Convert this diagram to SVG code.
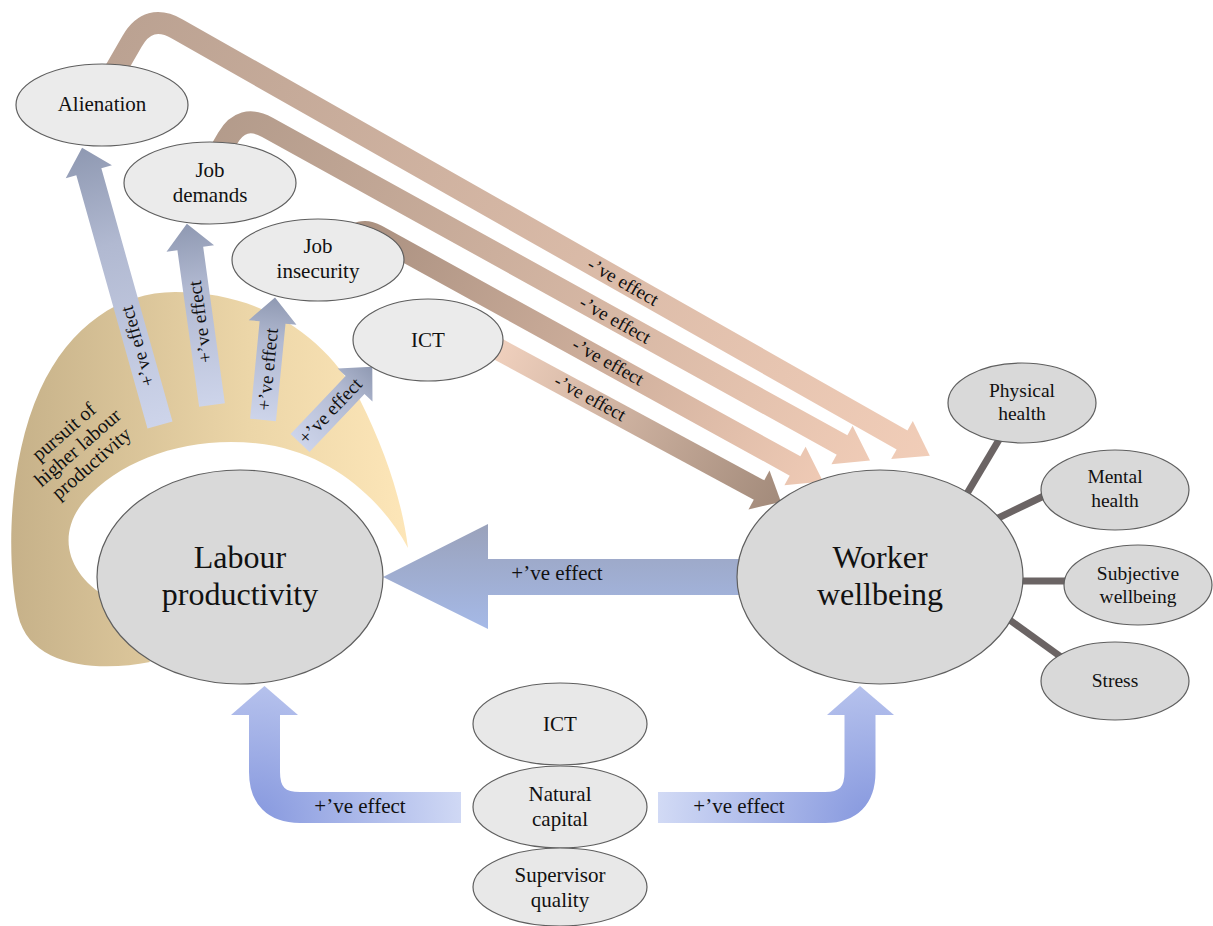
<svg xmlns="http://www.w3.org/2000/svg" width="1213" height="926" viewBox="0 0 1213 926" font-family="Liberation Serif, Times New Roman, serif">
<style>
text{font-family:'Liberation Serif','Times New Roman',serif;fill:#111;}
.n21{font-size:21px;text-anchor:middle;}
.n32{font-size:32px;text-anchor:middle;}
.n19{font-size:19.5px;text-anchor:middle;}
.lbl{font-size:19px;text-anchor:middle;}
.lbl21{font-size:21px;text-anchor:middle;}
.el{fill:#ebebeb;stroke:#5f5f5f;stroke-width:1.2;}
.big{fill:#d9d9d9;stroke:#5f5f5f;stroke-width:1.2;}
.sm{fill:#d9d9d9;stroke:#5f5f5f;stroke-width:1.2;}
.bt{fill:#e8e8e8;stroke:#5f5f5f;stroke-width:1.2;}
.shaft{fill:none;stroke-width:22;stroke-linecap:butt;stroke-linejoin:round;}
.spoke{stroke:#6b6464;stroke-width:7;}
</style>
<defs>
<linearGradient id="tan" x1="0" y1="0" x2="1" y2="0">
<stop offset="0" stop-color="#c6b189"/><stop offset="0.6" stop-color="#ecd6a8"/><stop offset="1" stop-color="#fde6b8"/>
</linearGradient>
<linearGradient id="br1" gradientUnits="userSpaceOnUse" x1="130" y1="20" x2="930" y2="456">
<stop offset="0" stop-color="#bba292"/><stop offset="1" stop-color="#f1cdb8"/>
</linearGradient>
<linearGradient id="br2" gradientUnits="userSpaceOnUse" x1="220" y1="115" x2="870" y2="460">
<stop offset="0" stop-color="#b39b8b"/><stop offset="1" stop-color="#efcbb6"/>
</linearGradient>
<linearGradient id="br3" gradientUnits="userSpaceOnUse" x1="340" y1="230" x2="823" y2="482">
<stop offset="0" stop-color="#a88f7f"/><stop offset="1" stop-color="#efcab5"/>
</linearGradient>
<linearGradient id="br4" gradientUnits="userSpaceOnUse" x1="480" y1="340" x2="780" y2="500">
<stop offset="0" stop-color="#f4d4c1"/><stop offset="1" stop-color="#a38b7b"/>
</linearGradient>
<linearGradient id="up" x1="0" y1="1" x2="0" y2="0">
<stop offset="0" stop-color="#cdd4ea"/><stop offset="0.65" stop-color="#b1b9d1"/><stop offset="1" stop-color="#8f99b2"/>
</linearGradient>
<linearGradient id="horiz" gradientUnits="userSpaceOnUse" x1="0" y1="524" x2="0" y2="629">
<stop offset="0" stop-color="#9aa2bb"/><stop offset="1" stop-color="#a5b9e7"/>
</linearGradient>
<radialGradient id="uL" gradientUnits="userSpaceOnUse" cx="252" cy="822" r="225">
<stop offset="0" stop-color="#8597de"/><stop offset="1" stop-color="#d5ddf6"/>
</radialGradient>
<radialGradient id="uR" gradientUnits="userSpaceOnUse" cx="873" cy="822" r="225">
<stop offset="0" stop-color="#8597de"/><stop offset="1" stop-color="#d5ddf6"/>
</radialGradient>
</defs>

<g id="pursuit-band">
<path d="M150,662 C100,672 30,668 18,615 C6,560 8,460 40,390 C70,325 120,292 175,292 C260,292 325,335 360,400 C385,450 402,500 408,548 C385,505 340,460 275,446 C200,432 125,455 85,500 C55,535 68,575 108,598 Z" fill="url(#tan)"/>
<text transform="translate(78,448) rotate(-41)" font-family="Liberation Serif, Times New Roman, serif" font-size="20" text-anchor="middle"><tspan x="0" y="-15">pursuit of</tspan><tspan x="0" y="6">higher labour</tspan><tspan x="0" y="27">productivity</tspan></text>
</g>

<g id="connectors">
<line class="spoke" x1="962" y1="502" x2="1003" y2="433"/>
<line class="spoke" x1="990" y1="522" x2="1050" y2="493"/>
<line class="spoke" x1="1010" y1="581" x2="1075" y2="581"/>
<line class="spoke" x1="1000" y1="613" x2="1068" y2="662"/>
<path class="shaft" stroke="url(#br1)" d="M109.6,80.3 L132.1,41.3 Q148.6,12.7 177.3,29 L903,440.5"/>
<polygon fill="url(#br1)" points="891.2,459.1 912.8,420.9 929.8,455.8"/>
<path class="shaft" stroke="url(#br2)" d="M207.5,173 L227.5,138.4 Q242,113.3 267.4,127.3 L843,445.5"/>
<polygon fill="url(#br2)" points="831.4,464.3 852.6,425.7 870,460.5"/>
<path class="shaft" stroke="url(#br3)" d="M336.5,264.7 L349,243 Q359,225.7 376.5,235.4 L796,466.5"/>
<polygon fill="url(#br3)" points="784.4,485.3 805.6,446.7 823,481.5"/>
<path class="shaft" stroke="url(#br4)" d="M470,334 L760,490.5"/>
<polygon fill="url(#br4)" points="748.5,509.4 769.5,470.6 781,502"/>
<text class="lbl" font-family="Liberation Serif, Times New Roman, serif" transform="translate(623,282) rotate(29.5)" dy="6">-’ve effect</text>
<text class="lbl" font-family="Liberation Serif, Times New Roman, serif" transform="translate(615,320) rotate(29)" dy="6">-’ve effect</text>
<text class="lbl" font-family="Liberation Serif, Times New Roman, serif" transform="translate(608,362) rotate(28.9)" dy="6">-’ve effect</text>
<text class="lbl" font-family="Liberation Serif, Times New Roman, serif" transform="translate(590,398) rotate(28.4)" dy="6">-’ve effect</text>
<g transform="translate(160,425) rotate(-15.7)">
<polygon fill="url(#up)" points="-13,0 -13,-263 -24,-263 0,-288 24,-263 13,-263 13,0"/>
<text class="lbl" font-family="Liberation Serif, Times New Roman, serif" transform="translate(0,-82) rotate(-90)" dy="6">+’ve effect</text>
</g>
<g transform="translate(212,405) rotate(-7.9)">
<polygon fill="url(#up)" points="-13,0 -13,-158 -24,-158 0,-183 24,-158 13,-158 13,0"/>
<text class="lbl" font-family="Liberation Serif, Times New Roman, serif" transform="translate(0,-84) rotate(-90)" dy="6">+’ve effect</text>
</g>
<g transform="translate(263,420) rotate(5.6)">
<polygon fill="url(#up)" points="-13,0 -13,-98 -24,-98 0,-123 24,-98 13,-98 13,0"/>
<text class="lbl" font-family="Liberation Serif, Times New Roman, serif" transform="translate(0,-51) rotate(-90)" dy="6">+’ve effect</text>
</g>
<g transform="translate(300,443) rotate(43.5)">
<polygon fill="url(#up)" points="-13,0 -13,-80 -24,-80 0,-105 24,-80 13,-80 13,0"/>
<text class="lbl" font-family="Liberation Serif, Times New Roman, serif" transform="translate(0,-44) rotate(-90)" dy="6">+’ve effect</text>
</g>
<polygon fill="url(#horiz)" points="383,577 488,524 488,559 745,559 745,595 488,595 488,629"/>
<text class="lbl21" font-family="Liberation Serif, Times New Roman, serif" x="557" y="580">+’ve effect</text>
<path fill="none" stroke="url(#uL)" stroke-width="31" d="M461,807.5 L300,807.5 Q264.5,807.5 264.5,772 L264.5,714"/>
<polygon fill="url(#uL)" points="231,715 264.5,686 298,715"/>
<path fill="none" stroke="url(#uR)" stroke-width="31" d="M658,807.5 L825,807.5 Q860,807.5 860,772 L860,714"/>
<polygon fill="url(#uR)" points="827,715 860,686 894,715"/>
<text class="lbl21" font-family="Liberation Serif, Times New Roman, serif" x="360" y="813">+’ve effect</text>
<text class="lbl21" font-family="Liberation Serif, Times New Roman, serif" x="739" y="813">+’ve effect</text>
</g>

<g id="nodes" font-family="Liberation Serif, Times New Roman, serif">
<g id="node-alienation"><ellipse class="el" cx="102" cy="105" rx="86" ry="41"/><text class="n21" x="102" y="111">Alienation</text></g>
<g id="node-job-demands"><ellipse class="el" cx="210" cy="183" rx="86" ry="41"/><text class="n21" x="210" y="177">Job</text><text class="n21" x="210" y="202">demands</text></g>
<g id="node-job-insecurity"><ellipse class="el" cx="318" cy="260" rx="86" ry="41"/><text class="n21" x="318" y="253">Job</text><text class="n21" x="318" y="278">insecurity</text></g>
<g id="node-ict-top"><ellipse class="el" cx="428" cy="340" rx="75" ry="41"/><text class="n21" x="428" y="347">ICT</text></g>
<g id="node-labour-productivity"><ellipse class="big" cx="240" cy="577" rx="143" ry="107"/><text class="n32" x="240" y="568">Labour</text><text class="n32" x="240" y="605">productivity</text></g>
<g id="node-worker-wellbeing"><ellipse class="big" cx="880" cy="577" rx="143" ry="107"/><text class="n32" x="880" y="568">Worker</text><text class="n32" x="880" y="605">wellbeing</text></g>
<g id="node-physical-health"><ellipse class="sm" cx="1022" cy="403" rx="74" ry="40"/><text class="n19" x="1022" y="397">Physical</text><text class="n19" x="1022" y="420">health</text></g>
<g id="node-mental-health"><ellipse class="sm" cx="1115" cy="490" rx="74" ry="40"/><text class="n19" x="1115" y="483">Mental</text><text class="n19" x="1115" y="507">health</text></g>
<g id="node-subjective-wellbeing"><ellipse class="sm" cx="1138" cy="585" rx="74" ry="40"/><text class="n19" x="1138" y="580">Subjective</text><text class="n19" x="1138" y="603">wellbeing</text></g>
<g id="node-stress"><ellipse class="sm" cx="1115" cy="681" rx="74" ry="39"/><text class="n19" x="1115" y="687">Stress</text></g>
<g id="node-ict-bottom"><ellipse class="bt" cx="560" cy="724" rx="87" ry="41"/><text class="n21" x="560" y="731">ICT</text></g>
<g id="node-natural-capital"><ellipse class="bt" cx="560" cy="807" rx="87" ry="41"/><text class="n21" x="560" y="801">Natural</text><text class="n21" x="560" y="826">capital</text></g>
<g id="node-supervisor-quality"><ellipse class="bt" cx="560" cy="887" rx="87" ry="39"/><text class="n21" x="560" y="882">Supervisor</text><text class="n21" x="560" y="907">quality</text></g>
</g>
</svg>
